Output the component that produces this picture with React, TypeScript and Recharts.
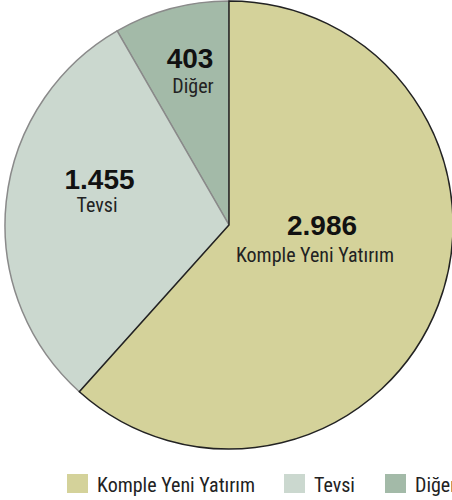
import React from 'react';
import { PieChart, Pie, Cell } from 'recharts';

const categories = ['Komple Yeni Yatırım', 'Tevsi', 'Diğer'];
const values = [2986, 1455, 403];
const valueLabels = ['2.986', '1.455', '403'];

const fills = ['#d4d29a', '#cbd8cf', '#a3baa8'];
const strokes = ['#222222', '#8a8a8a', '#8a8a8a'];
const NARROW = '"Liberation Sans Narrow", "Roboto Condensed", Roboto, sans-serif';
const BOLD = '"Liberation Sans", Arial, sans-serif';

// draw order reversed so the dark outline of the largest slice sits on top
const order = [2, 1, 0];
const data = order.map((i) => ({ name: categories[i], value: values[i], idx: i }));

const labelOffsets: Record<number, { nx: number; ny: number; tx: number; ty: number }> = {
  0: { nx: 93, ny: 10, tx: 86, ty: 37 },
  1: { nx: -129.5, ny: -36, tx: -132, ty: -13 },
  2: { nx: -39, ny: -157, tx: -36, ty: -132 },
};

const renderLabel = (props: any) => {
  const { cx, cy, payload } = props;
  const idx = payload.idx ?? payload.payload?.idx;
  const o = labelOffsets[idx];
  return (
    <g>
      <text x={cx + o.nx} y={cy + o.ny} textAnchor="middle" fontFamily={BOLD} fontWeight="bold" fontSize={28} fill="#111">
        {valueLabels[idx]}
      </text>
      <text x={cx + o.tx} y={cy + o.ty} textAnchor="middle" fontFamily={NARROW} fontSize={20} fill="#222">
        {categories[idx]}
      </text>
    </g>
  );
};

const legendX = [67, 284, 385];

export default function App() {
  return (
    <div style={{ position: 'absolute', left: 0, top: 0, width: 452, height: 500, background: '#fff', overflow: 'hidden' }}>
      <PieChart width={452} height={500} margin={{ top: 0, right: 0, bottom: 0, left: 0 }}>
        <Pie
          data={data}
          dataKey="value"
          cx={229}
          cy={225}
          outerRadius={224}
          innerRadius={0}
          startAngle={90}
          endAngle={450}
          isAnimationActive={false}
          label={renderLabel}
          labelLine={false}
        >
          {data.map((d) => (
            <Cell key={d.name} fill={fills[d.idx]} stroke={strokes[d.idx]} strokeWidth={1.5} />
          ))}
        </Pie>
      </PieChart>
      <svg width={452} height={30} style={{ position: 'absolute', left: 0, top: 470 }}>
        {categories.map((c, i) => (
          <g key={c}>
            <rect x={legendX[i]} y={4} width={21} height={19} fill={fills[i]} />
            <text x={legendX[i] + 30} y={22} fontFamily={NARROW} fontSize={20} fill="#222">
              {c}
            </text>
          </g>
        ))}
      </svg>
    </div>
  );
}
